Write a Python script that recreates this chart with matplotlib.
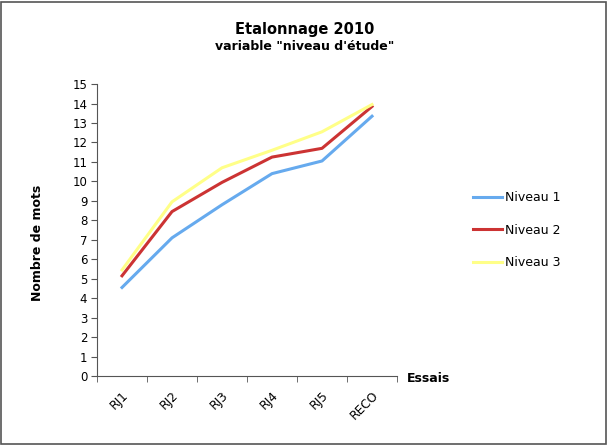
import matplotlib.pyplot as plt
import numpy as np
from matplotlib.patches import Rectangle

# data
essais = ["RJ1", "RJ2", "RJ3", "RJ4", "RJ5", "RECO"]
niveau1 = [4.55, 7.1, 8.8, 10.4, 11.05, 13.35]
niveau2 = [5.15, 8.45, 9.95, 11.25, 11.7, 13.85]
niveau3 = [5.45, 8.95, 10.7, 11.6, 12.55, 13.95]
y_ticks = list(range(0, 16))

plt.rcParams['font.family'] = 'DejaVu Sans'

fig = plt.figure(figsize=(6.09, 4.45), dpi=100)
ax = fig.add_axes([0.1593, 0.155, 0.4926, 0.656])

x = np.arange(len(essais))
ax.plot(x, niveau1, color="#66aaee", lw=2.2, label="Niveau 1")
ax.plot(x, niveau2, color="#cc3333", lw=2.2, label="Niveau 2")
ax.plot(x, niveau3, color="#ffff88", lw=2.2, label="Niveau 3")

# axes
ax.set_xlim(-0.5, len(essais) - 0.5)
ax.set_ylim(0, 15)
ax.set_yticks(y_ticks)
ax.set_yticklabels([str(v) for v in y_ticks], fontsize=8.5)
ax.set_xticks(x)
ax.set_xticklabels(essais, fontsize=8.8, rotation=45, ha="right", rotation_mode="anchor")
ax.tick_params(axis="x", length=0, pad=9)
ax.set_xticks(np.arange(-0.5, len(essais), 1), minor=True)
ax.tick_params(axis="x", which="minor", length=4, color="#555555")
ax.tick_params(axis="y", length=4, color="#555555", pad=3)
for s in ["top", "right"]:
    ax.spines[s].set_visible(False)
for s in ["left", "bottom"]:
    ax.spines[s].set_color("#555555")
    ax.spines[s].set_linewidth(0.8)

ax.set_ylabel("Nombre de mots", fontsize=9, fontweight="bold")
ax.yaxis.set_label_coords(-0.176, 0.455)
fig.text(0.668, 0.150, "Essais", fontsize=9, fontweight="bold", ha="left", va="center")

# titles
fig.text(0.5, 0.933, "Etalonnage 2010", fontsize=10.5, fontweight="bold", ha="center", va="center")
fig.text(0.5, 0.896, 'variable "niveau d\'étude"', fontsize=9, fontweight="bold", ha="center", va="center")

# legend
ax.legend(loc="center left", bbox_to_anchor=(0.758, 0.483), bbox_transform=fig.transFigure,
          frameon=False, fontsize=9, handlelength=2.3, labelspacing=1.55, handletextpad=0.25)

# grey frame round the picture
fig.patches.append(Rectangle((0.002, 0.003), 0.993, 0.992, transform=fig.transFigure,
                             fill=False, edgecolor="#555555", lw=1.2))

plt.savefig("out.png", dpi=100)
plt.close("all")
